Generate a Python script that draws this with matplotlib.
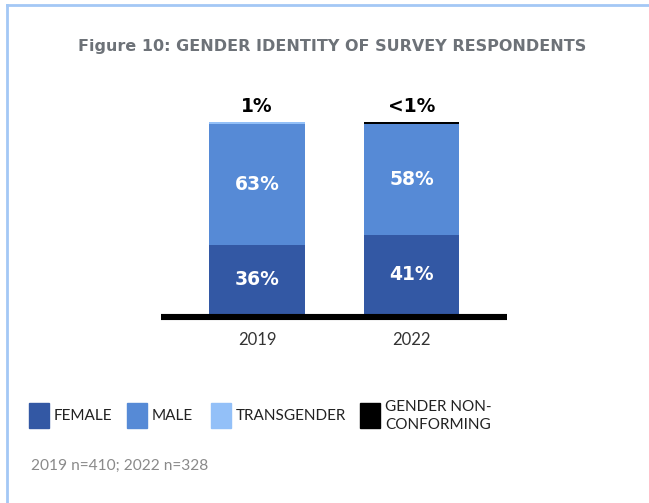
import matplotlib.pyplot as plt
from matplotlib.patches import Rectangle
from matplotlib.lines import Line2D
import numpy as np

# data
years = ['2019', '2022']
female = [36, 41]
male = [63, 58]
transgender = [1, 0]
nonconforming = [0, 1]
top_labels = ['1%', '<1%']
series_names = ['FEMALE', 'MALE', 'TRANSGENDER', 'GENDER NON-\nCONFORMING']
colors = ['#3358a4', '#568ad6', '#93c0f8', '#000000']

W, H = 649, 503
fig = plt.figure(figsize=(W / 100, H / 100), dpi=100)

# light blue frame (top + left)
fig.add_artist(Line2D([7 / W, 1], [1 - 5 / H, 1 - 5 / H], color='#a4c8f5', lw=2))
fig.add_artist(Line2D([7 / W, 7 / W], [0, 1 - 5 / H], color='#a4c8f5', lw=2))

fig.text(332 / W, 1 - 46 / H, 'Figure 10: GENDER IDENTITY OF SURVEY RESPONDENTS',
         ha='center', va='center', fontsize=11.5, fontweight='bold', color='#6d7278',
         family='DejaVu Sans')

# axes: baseline at y px 314, 100% at y px 122
ax = fig.add_axes([161 / W, 1 - 314 / H, 346 / W, 192 / H])
x = np.arange(len(years))
bw = 0.62
bottom = np.zeros(len(years))
stack = [female, male, transgender, nonconforming]
for vals, c in zip(stack, colors):
    ax.bar(x, vals, bw, bottom=bottom, color=c, linewidth=0)
    bottom += np.array(vals)

# value labels
lab = dict(ha='center', va='center', fontsize=13.5, fontweight='bold', family='DejaVu Sans')
for i in range(len(years)):
    ax.text(x[i], female[i] / 2, f'{female[i]}%', color='white', **lab)
    ax.text(x[i], female[i] + male[i] / 2, f'{male[i]}%', color='white', **lab)
    ax.annotate(top_labels[i], (x[i], bottom[i]), xytext=(0, 11), textcoords='offset points',
                color='black', **lab)

ax.set_xlim(-0.621, 1.618)
ax.set_ylim(0, 100)
for s in ['top', 'right', 'left']:
    ax.spines[s].set_visible(False)
ax.spines['bottom'].set_linewidth(4.4)
ax.spines['bottom'].set_position(('outward', 2.2))
ax.spines['bottom'].set_capstyle('butt')
ax.set_yticks([])
ax.set_xticks(x)
ax.set_xticklabels(years, fontsize=12, color='#333333', family='Lato')
ax.tick_params(axis='x', length=0, pad=11)

# legend drawn by hand
sq_x = [29, 127, 211, 360]
for name, c, sx in zip(series_names, colors, sq_x):
    fig.add_artist(Rectangle((sx / W, 1 - 428 / H), 20 / W, 25 / H, color=c,
                             transform=fig.transFigure))
    fig.text((sx + 25) / W, 1 - 416 / H, name, ha='left', va='center',
             fontsize=11, color='#222222', family='Lato', linespacing=1.3)

fig.text(31 / W, 1 - 466 / H, '2019 n=410; 2022 n=328', ha='left', va='center',
         fontsize=11.2, color='#8a8a8a', family='Lato')

fig.savefig('out.png', dpi=100)
